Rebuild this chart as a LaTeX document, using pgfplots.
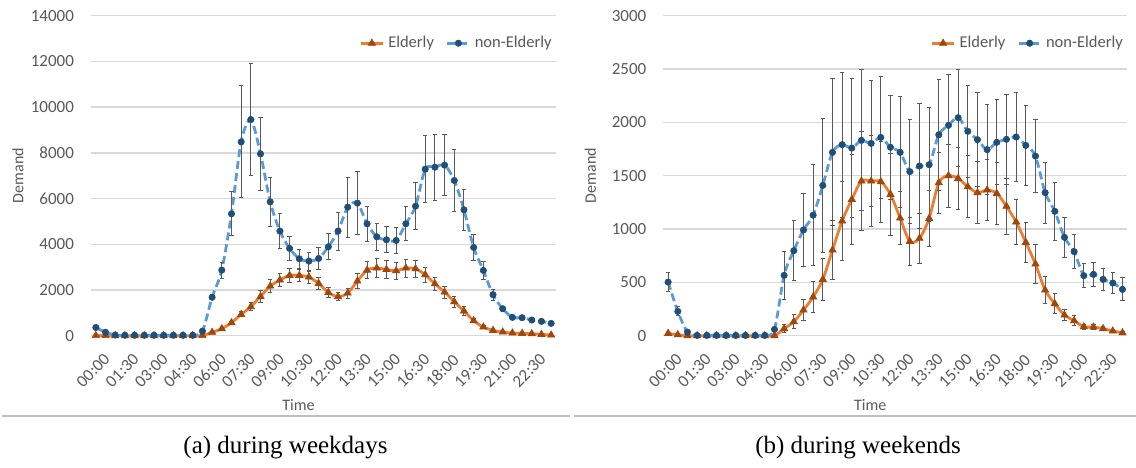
\documentclass[border=0pt]{standalone}
\usepackage{fontspec}
\setmainfont{Carlito}
\newfontfamily\capfont{Liberation Serif}
\usepackage{pgfplots}
\usepackage{pgfplotstable}
\pgfplotsset{compat=1.18}

\definecolor{eldline}{HTML}{ED7D31}
\definecolor{eldmark}{HTML}{9E480E}
\definecolor{nonline}{HTML}{5B9BD5}
\definecolor{nonmark}{HTML}{1F4E79}
\definecolor{gridc}{HTML}{D9D9D9}
\definecolor{txt}{HTML}{595959}
\definecolor{errc}{HTML}{595959}
\definecolor{sepc}{HTML}{BFBFBF}

\pgfplotstableread{
x eld eerr non nerr
0 10 0 360 40
1 5 0 150 30
2 0 0 30 10
3 0 0 20 5
4 0 0 20 5
5 0 0 20 5
6 0 0 20 5
7 0 0 20 5
8 0 0 20 5
9 0 0 20 5
10 0 0 20 5
11 10 5 200 40
12 150 30 1680 110
13 306 50 2870 350
14 568 70 5333 970
15 930 110 8480 2450
16 1268 180 9456 2450
17 1719 250 7955 1600
18 2171 300 5857 1060
19 2433 290 4575 760
20 2637 310 3817 520
21 2637 270 3366 410
22 2564 260 3264 390
23 2287 250 3380 470
24 1894 210 3890 570
25 1705 180 4575 830
26 1865 220 5624 1310
27 2389 320 5799 1380
28 2870 380 4896 760
29 2958 400 4327 580
30 2900 400 4196 575
31 2841 380 4167 550
32 2958 390 4896 740
33 2929 380 5668 1030
34 2666 330 7285 1460
35 2273 290 7372 1450
36 1909 260 7460 1340
37 1486 250 6790 1360
38 1078 180 5507 900
39 656 100 3861 575
40 379 60 2856 400
41 233 40 1792 250
42 160 30 1180 100
43 117 20 801 60
44 102 20 787 60
45 87 15 685 50
46 58 10 627 50
47 29 5 539 40
}\weekday

\pgfplotstableread{
x eld eerr non nerr
0 22 10 503 88
1 9 5 228 42
2 0 0 34 10
3 0 0 3 2
4 0 0 3 2
5 0 0 3 2
6 0 0 3 2
7 0 0 3 2
8 0 0 3 2
9 0 0 3 2
10 0 0 3 2
11 0 0 59 10
12 66 40 566 228
13 131 65 797 284
14 241 100 991 340
15 363 145 1130 475
16 528 200 1409 625
17 803 280 1719 690
18 1075 370 1791 680
19 1278 425 1759 650
20 1450 460 1831 660
21 1450 425 1803 590
22 1444 380 1859 570
23 1325 385 1766 490
24 1103 250 1719 520
25 884 225 1538 490
26 913 235 1591 590
27 1100 265 1603 535
28 1434 285 1884 520
29 1500 295 1972 480
30 1475 290 2044 455
31 1397 290 1916 430
32 1341 290 1838 440
33 1366 290 1744 420
34 1334 290 1813 400
35 1213 260 1841 420
36 1066 215 1863 415
37 875 190 1784 375
38 672 185 1684 345
39 428 130 1341 285
40 300 95 1166 272
41 194 55 922 185
42 141 45 788 162
43 84 25 563 115
44 81 20 575 115
45 66 20 528 100
46 44 15 494 94
47 28 10 434 107
}\weekend

\pgfplotsset{
  panel/.style={
    scale only axis, height=160pt,
    xmin=-0.5, xmax=47.5, ymin=0,
    clip=false,
    axis line style={draw=none},
    major tick length=0pt,
    ymajorgrids, grid style={gridc, line width=0.7pt},
    xtick={0,3,...,45},
    xticklabels={00:00,01:30,03:00,04:30,06:00,07:30,09:00,10:30,12:00,13:30,15:00,16:30,18:00,19:30,21:00,22:30},
    /pgf/number format/assume math mode=true,
    xticklabel style={rotate=45, anchor=north east, yshift=-5pt, font=\fontsize{8.5}{10}\selectfont, text=txt},
    yticklabel style={font=\fontsize{8.5}{10}\selectfont, text=txt, xshift=-5pt, /pgf/number format/.cd, 1000 sep={}},
    scaled y ticks=false,
    xlabel={Time}, ylabel={Demand},
    every axis x label/.style={at={([xshift=-12.5pt,yshift=-34.6pt]axis description cs:0.5,0)}, anchor=center, font=\fontsize{8}{10}\selectfont, text=txt},
    every axis y label/.style={at={([xshift=-36.5pt]axis description cs:0,0.5)}, rotate=90, anchor=center, font=\fontsize{8}{10}\selectfont, text=txt},
    legend style={draw=none, fill=none, at={(axis description cs:1,0.914)}, anchor=east, legend columns=2, font=\fontsize{8.25}{10}\selectfont, text=txt, /tikz/every even column/.append style={column sep=4pt}, inner sep=0pt},
    legend image code/.code={\draw[mark repeat=2,mark phase=2,##1] plot coordinates {(0pt,0pt) (5.5pt,0pt) (11pt,0pt)};},
  },
  eldstyle/.style={eldline, line width=1.4pt, smooth, mark=triangle*, mark size=2.1pt, mark options={fill=eldmark, draw=eldmark, solid, line width=0.3pt}},
  nonstyle/.style={nonline, line width=1.4pt, smooth, dash pattern=on 4pt off 2pt, mark=*, mark size=1.6pt, mark options={fill=nonmark, draw=nonmark, solid, line width=0.3pt}},
  errs/.style={error bars/.cd, y dir=both, y explicit, error bar style={errc, line width=0.5pt, solid}, error mark options={errc, rotate=90, mark size=1.1pt, line width=0.5pt, solid}},
}

\begin{document}
\begin{tikzpicture}
\useasboundingbox (0,0) rectangle (568pt,233.5pt);

\begin{axis}[panel, at={(45.5pt,65.65pt)}, anchor=south west, width=232.5pt,
  ymax=14000, ytick={0,2000,...,14000}]
\addplot[eldstyle, errs] table[x=x, y=eld, y error=eerr] {\weekday};
\addlegendentry{Elderly}
\addplot[nonstyle, errs] table[x=x, y=non, y error=nerr] {\weekday};
\addlegendentry{non-Elderly}
\end{axis}

\begin{axis}[panel, at={(331.65pt,65.65pt)}, anchor=south west, width=232pt,
  ymax=3000, ytick={0,500,...,3000}]
\addplot[eldstyle, errs] table[x=x, y=eld, y error=eerr] {\weekend};
\addlegendentry{Elderly}
\addplot[nonstyle, errs] table[x=x, y=non, y error=nerr] {\weekend};
\addlegendentry{non-Elderly}
\end{axis}

\draw[sepc, line width=0.8pt] (1pt,25.5pt) -- (285pt,25.5pt);
\draw[sepc, line width=0.8pt] (287pt,25.5pt) -- (568pt,25.5pt);

\node[font=\capfont\fontsize{12.5}{14}\selectfont, anchor=center] at (142.75pt,9.5pt) {(a) during weekdays};
\node[font=\capfont\fontsize{12.5}{14}\selectfont, anchor=center] at (429pt,9.5pt) {(b) during weekends};
\end{tikzpicture}
\end{document}
